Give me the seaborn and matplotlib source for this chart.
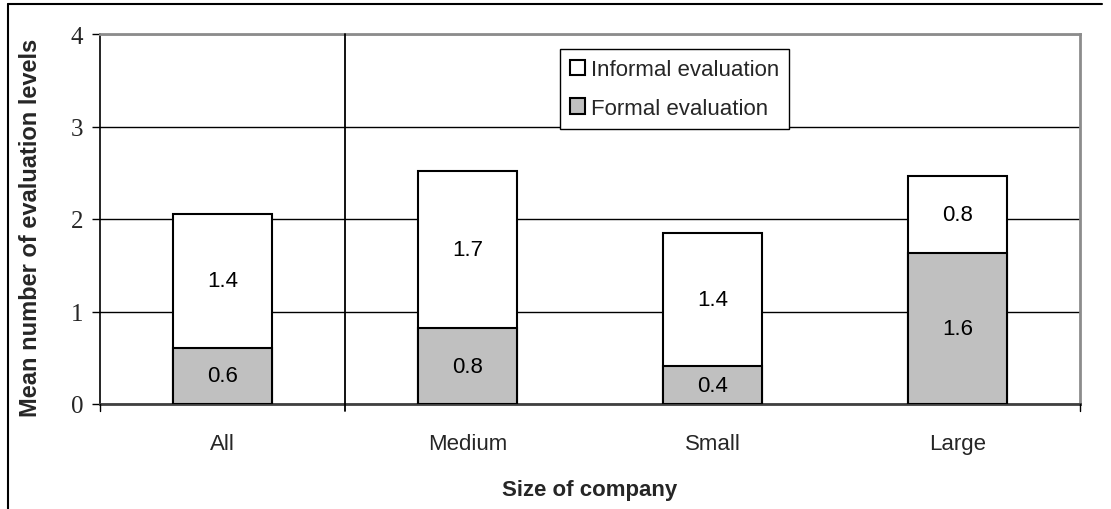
import matplotlib
matplotlib.use("Agg")
import matplotlib.pyplot as plt
from matplotlib.patches import Patch
from matplotlib.lines import Line2D
import seaborn as sns
import pandas as pd

# Mean number of evaluation levels by company size
sizes = ["All", "Medium", "Small", "Large"]
formal = [0.61, 0.82, 0.41, 1.63]
informal = [1.44, 1.70, 1.44, 0.83]
y_ticks = [0, 1, 2, 3, 4]

df = pd.DataFrame({"size": sizes, "formal": formal, "informal": informal})
df["total"] = df["formal"] + df["informal"]

sns.set_theme(style="white")
plt.rcParams["font.family"] = ["Liberation Sans", "DejaVu Sans"]

fig = plt.figure(figsize=(11.11, 5.10), dpi=100)
ax = fig.add_axes([100 / 1111, 105 / 510, 980 / 1111, 370 / 510])

bar_w = 0.405
# full stack (white), then the formal part (grey) drawn over its base
sns.barplot(data=df, x="size", y="total", order=sizes, color="white",
            edgecolor="black", linewidth=1.5, width=bar_w, saturation=1, ax=ax, zorder=3)
sns.barplot(data=df, x="size", y="formal", order=sizes, color="#C0C0C0",
            edgecolor="black", linewidth=1.5, width=bar_w, saturation=1, ax=ax, zorder=4)

for i, row in df.iterrows():
    ax.text(i, row["formal"] / 2, f"{row['formal']:.1f}", ha="center", va="center",
            fontsize=16, color="black", zorder=5)
    ax.text(i, row["formal"] + row["informal"] / 2, f"{row['informal']:.1f}",
            ha="center", va="center", fontsize=16, color="black", zorder=5)

ax.set_xlim(-0.5, len(sizes) - 0.5)
ax.set_ylim(0, 4)
ax.set_yticks(y_ticks)
ax.set_yticklabels([str(t) for t in y_ticks], family=["Liberation Serif"], fontsize=18)
ax.tick_params(axis="y", left=True, direction="out", length=6, width=1, color="black", pad=6)
ax.tick_params(axis="x", bottom=False, pad=15, labelsize=16)

# horizontal gridlines
ax.yaxis.grid(True, color="black", linewidth=1)
ax.set_axisbelow(True)

for side in ("top", "right"):
    ax.spines[side].set_color("#8c8c8c")
    ax.spines[side].set_linewidth(2)
ax.spines["left"].set_color("black")
ax.spines["left"].set_linewidth(1.2)
ax.spines["bottom"].set_color("#404040")
ax.spines["bottom"].set_linewidth(2)

# separator between the overall figure and the size groups, plus edge ticks
trans = ax.get_xaxis_transform()
ax.plot([0.5, 0.5], [-0.018, 1], color="black", linewidth=1.3, transform=trans,
        clip_on=False, zorder=6)
for xe in (-0.5, len(sizes) - 0.5):
    ax.plot([xe, xe], [-0.018, 0], color="black", linewidth=1, transform=trans,
            clip_on=False, zorder=6)

ax.set_xlabel("Size of company", fontsize=16, fontweight="bold", labelpad=18)
ax.set_ylabel("Mean number of evaluation levels", fontsize=17, fontweight="bold")
ax.yaxis.set_label_coords(-0.059, 0.478)

handles = [Patch(facecolor="white", edgecolor="black", linewidth=1.5, label="Informal evaluation"),
           Patch(facecolor="#C0C0C0", edgecolor="black", linewidth=1.5, label="Formal evaluation")]
leg = ax.legend(handles=handles, loc="upper left", bbox_to_anchor=(0.469, 0.959),
                fontsize=16, frameon=True, fancybox=False, framealpha=1,
                edgecolor="black", handlelength=0.7, handleheight=0.7,
                handletextpad=0.25, borderpad=0.45, labelspacing=0.8, borderaxespad=0)
leg.get_frame().set_linewidth(1)

# outer frame lines of the figure
fig.add_artist(Line2D([8 / 1111, 1102 / 1111], [1 - 5 / 510, 1 - 5 / 510],
                      transform=fig.transFigure, color="black", linewidth=1.5))
fig.add_artist(Line2D([8 / 1111, 8 / 1111], [0, 1 - 5 / 510],
                      transform=fig.transFigure, color="black", linewidth=1.5))

fig.savefig("out.png", dpi=100)
